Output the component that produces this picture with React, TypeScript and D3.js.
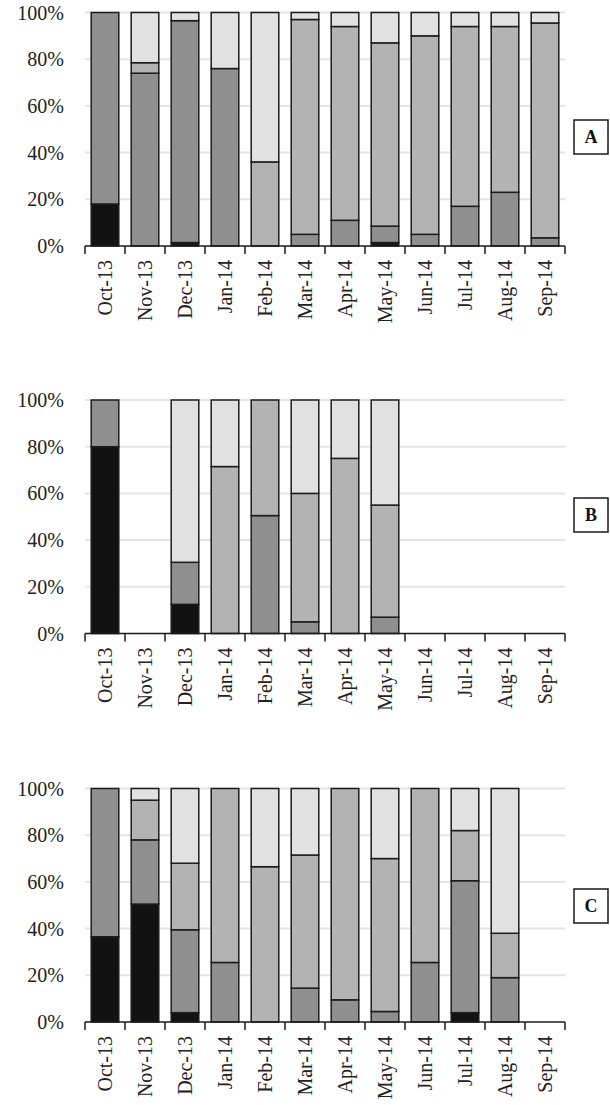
import React from "react";
import * as d3 from "d3";

// Monthly share of four classes, three sites (A, B, C)
const months = ["Oct-13", "Nov-13", "Dec-13", "Jan-14", "Feb-14", "Mar-14", "Apr-14", "May-14", "Jun-14", "Jul-14", "Aug-14", "Sep-14"];
const yTicks = [0, 20, 40, 60, 80, 100];
const seriesKeys = ["black", "dark", "mid", "light"];

// Site A
const blackA = [18, 0, 1.5, 0, 0, 0, 0, 1.5, 0, 0, 0, 0];
const darkA = [82, 74, 95, 76, 0, 5, 11, 7, 5, 17, 23, 3.5];
const midA = [0, 4.5, 0, 0, 36, 92, 83, 78.5, 85, 77, 71, 92];
const lightA = [0, 21.5, 3.5, 24, 64, 3, 6, 13, 10, 6, 6, 4.5];

// Site B
const blackB = [80, 0, 12.5, 0, 0, 0, 0, 0, 0, 0, 0, 0];
const darkB = [20, 0, 18, 0, 50.5, 5, 0, 7, 0, 0, 0, 0];
const midB = [0, 0, 0, 71.5, 49.5, 55, 75, 48, 0, 0, 0, 0];
const lightB = [0, 0, 69.5, 28.5, 0, 40, 25, 45, 0, 0, 0, 0];

// Site C
const blackC = [36.5, 50.5, 4, 0, 0, 0, 0, 0, 0, 4, 0, 0];
const darkC = [63.5, 27.5, 35.5, 25.5, 0, 14.5, 9.5, 4.5, 25.5, 56.5, 19, 0];
const midC = [0, 17, 28.5, 74.5, 66.5, 57, 90.5, 65.5, 74.5, 21.5, 19, 0];
const lightC = [0, 5, 32, 0, 33.5, 28.5, 0, 30, 0, 18, 62, 0];

const panelLabels = ["A", "B", "C"];

const colors: Record<string, string> = {
  black: "#121212",
  dark: "#8f8f8f",
  mid: "#b3b3b3",
  light: "#e1e1e1",
};

type Row = { month: string; [k: string]: number | string };

function buildRows(b: number[], d: number[], m: number[], l: number[]): Row[] {
  return months.map((month, i) => ({ month, black: b[i], dark: d[i], mid: m[i], light: l[i] }));
}

const panels = [
  { label: panelLabels[0], rows: buildRows(blackA, darkA, midA, lightA), top: 12.5, boxY: 137 },
  { label: panelLabels[1], rows: buildRows(blackB, darkB, midB, lightB), top: 400, boxY: 515 },
  { label: panelLabels[2], rows: buildRows(blackC, darkC, midC, lightC), top: 788.5, boxY: 906 },
];

const W = 610;
const H = 1105;
const plotLeft = 85;
const plotRight = 565;
const plotH = 233.5;
const font = "'Liberation Serif', 'Times New Roman', serif";

function Panel({ label, rows, top, boxY }: { label: string; rows: Row[]; top: number; boxY: number }) {
  const x = d3.scaleBand<string>().domain(months).range([plotLeft, plotRight]).paddingInner(0.31).paddingOuter(0.155);
  const y = d3.scaleLinear().domain([0, 100]).range([top + plotH, top]);
  const stack = d3.stack<Row>().keys(seriesKeys).value((d, k) => d[k] as number);
  const layers = stack(rows);
  const step = x.step();
  const base = y(0);
  const boundaries = d3.range(months.length + 1).map((i) => plotLeft + i * step);

  return (
    <g>
      {yTicks.filter((t) => t > 0).map((t) => (
        <line key={"g" + t} x1={plotLeft} x2={plotRight} y1={y(t)} y2={y(t)} stroke="#e4e4e4" strokeWidth={2} />
      ))}
      {layers.map((layer) =>
        layer.map((seg, i) => {
          const h = y(seg[0]) - y(seg[1]);
          if (h <= 0) return null;
          return (
            <rect
              key={layer.key + i}
              x={x(months[i])}
              y={y(seg[1])}
              width={x.bandwidth()}
              height={h}
              fill={colors[layer.key]}
              stroke="#1c1c1c"
              strokeWidth={1.5}
            />
          );
        })
      )}
      <line x1={plotLeft} x2={plotRight} y1={base} y2={base} stroke="#1a1a1a" strokeWidth={1.5} />
      {boundaries.map((bx, i) => (
        <line key={"t" + i} x1={bx} x2={bx} y1={base} y2={base + 8} stroke="#1a1a1a" strokeWidth={1.5} />
      ))}
      {yTicks.map((t) => (
        <text key={"y" + t} x={64} y={y(t)} dy="0.35em" textAnchor="end" fontFamily={font} fontSize={20} fill="#222">
          {t}%
        </text>
      ))}
      {months.map((m) => {
        const cx = (x(m) as number) + x.bandwidth() / 2;
        const ty = base + 14;
        return (
          <text
            key={"x" + m}
            transform={`translate(${cx},${ty}) rotate(-90)`}
            textAnchor="end"
            dy="0.35em"
            fontFamily={font}
            fontSize={20}
            fill="#222"
          >
            {m}
          </text>
        );
      })}
      <rect x={574} y={boxY - 17} width={34} height={34} fill="#fff" stroke="#1a1a1a" strokeWidth={1.5} />
      <text x={591} y={boxY} dy="0.35em" textAnchor="middle" fontFamily={font} fontWeight="bold" fontSize={18} fill="#111">
        {label}
      </text>
    </g>
  );
}

export default function App() {
  return (
    <svg width={W} height={H} style={{ position: "absolute", left: 0, top: 0, background: "#fff" }}>
      <rect width={W} height={H} fill="#fff" />
      {panels.map((p) => (
        <Panel key={p.label} {...p} />
      ))}
    </svg>
  );
}
